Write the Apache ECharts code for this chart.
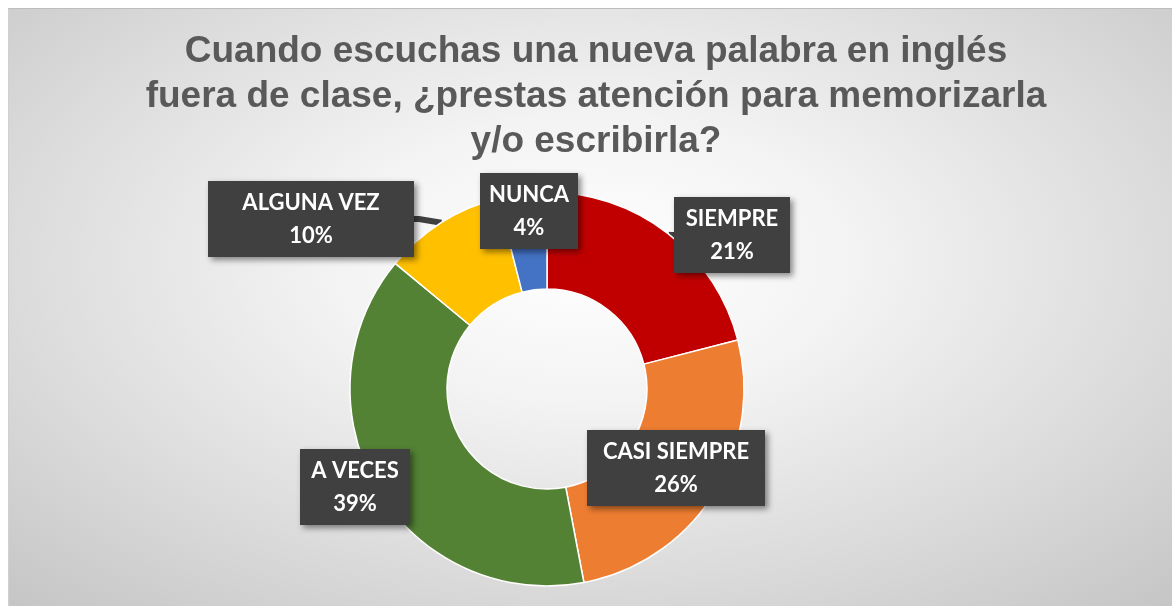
<!DOCTYPE html>
<html>
<head>
<meta charset="utf-8">
<script src="https://cdn.jsdelivr.net/npm/echarts@6/dist/echarts.min.js"></script>
<style>
	html, body { margin:0; padding:0; background:#fff; }
	#bg {
		position:absolute; left:8px; top:8px; width:1164px; height:598px;
		border-top:1px solid #bdbdbd; border-left:1px solid #d0d0d0;
		background: radial-gradient(ellipse 75% 80% at 50% 42%, #ffffff 0%, #f3f3f3 30%, #dcdcdc 65%, #c4c4c4 100%);
	}
	#chartPie { position:absolute; left:0; top:0; width:1172px; height:606px; }
</style>
</head>
<body>
<div id="bg"></div>
<div id="chartPie"></div>
<script>
var categories = ['SIEMPRE', 'CASI SIEMPRE', 'A VECES', 'ALGUNA VEZ', 'NUNCA'];
var values = [21, 26, 39, 10, 4];
var colors = ['#c00000', '#ed7d31', '#548235', '#ffc000', '#4472c4'];

// where each callout box sits (page pixels)
var boxPos = {
	'SIEMPRE': [732, 235],
	'CASI SIEMPRE': [676, 468],
	'A VECES': [355, 487],
	'ALGUNA VEZ': [311, 219],
	'NUNCA': [529, 211]
};
var boxWidth = {
	'SIEMPRE': 88,
	'CASI SIEMPRE': 150,
	'A VECES': 82,
	'ALGUNA VEZ': 178,
	'NUNCA': 70
};
var withPointer = { 'SIEMPRE': true, 'ALGUNA VEZ': true };

drawPie();
function drawPie(){
	var myChart = echarts.init(document.getElementById('chartPie'));
	var data = categories.map(function(name, i){
		return {
			name: name,
			value: values[i],
			itemStyle: { color: colors[i] },
			label: { width: boxWidth[name] },
			labelLine: { show: !!withPointer[name] }
		};
	});
	var option = {
		backgroundColor: 'transparent',
		title: {
			text: 'Cuando escuchas una nueva palabra en inglés\nfuera de clase, ¿prestas atención para memorizarla\ny/o escribirla?',
			left: 591,
			top: 24,
			textAlign: 'center',
			textStyle: {
				fontFamily: 'Liberation Sans',
				fontSize: 37,
				fontWeight: 'bold',
				color: '#595959',
				lineHeight: 45
			}
		},
		series: [
			{
				type: 'pie',
				center: [547, 389],
				radius: [100, 197],
				startAngle: 90,
				clockwise: true,
				animation: false,
				itemStyle: {
					borderColor: '#ffffff',
					borderWidth: 1.5
				},
				label: {
					show: true,
					position: 'outside',
					formatter: '{b}\n{d}%',
					fontFamily: 'Lato',
					fontWeight: 'bold',
					fontSize: 22,
					lineHeight: 33,
					color: '#ffffff',
					align: 'center',
					overflow: 'none',
					backgroundColor: '#404040',
					padding: [5, 14],
					shadowColor: 'rgba(0,0,0,0.45)',
					shadowBlur: 6,
					shadowOffsetX: 3,
					shadowOffsetY: 3
				},
				labelLine: {
					show: false,
					length: 5,
					length2: 5,
					lineStyle: { color: '#404040', width: 6 }
				},
				labelLayout: function(params){
					var p = boxPos[categories[params.dataIndex]];
					return {
						x: p[0],
						y: p[1],
						align: 'center',
						verticalAlign: 'middle',
						hideOverlap: false,
						moveOverlap: null
					};
				},
				data: data
			}
		]
	};
	myChart.setOption(option);
}
</script>
</body>
</html>
